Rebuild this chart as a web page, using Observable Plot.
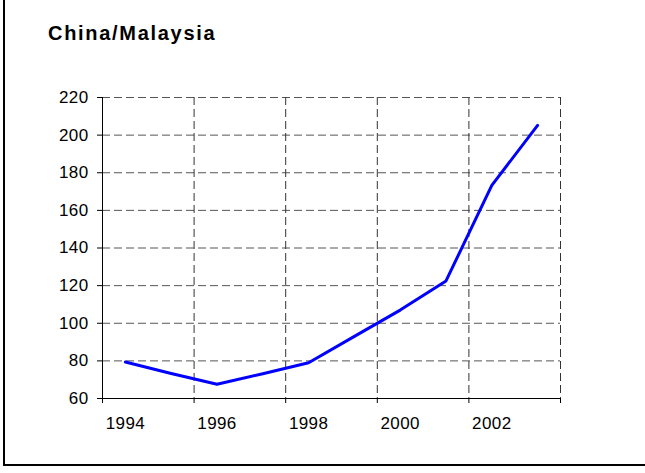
<!DOCTYPE html>
<html>
<head>
<meta charset="utf-8">
<script src="https://cdn.jsdelivr.net/npm/d3@7"></script>
<script src="https://cdn.jsdelivr.net/npm/@observablehq/plot@0.6"></script>
<style>
  html, body { margin: 0; padding: 0; background: #fff; overflow: hidden; }
  #wrap { position: relative; width: 645px; height: 473px; }
  #frame { position: absolute; left: 3px; top: -4px; width: 700px; height: 470px;
           border-left: 2px solid #000; border-bottom: 2px solid #000; box-sizing: border-box; }
  #title { position: absolute; left: 48px; top: 23px; font: bold 20px "Liberation Sans", Arial, sans-serif;
           letter-spacing: 1.7px; line-height: 1; color: #000; }
  #chart { position: absolute; left: 0; top: 0; }
</style>
</head>
<body>
<div id="wrap">
  <div id="chart"></div>
  <div id="frame"></div>
  <div id="title">China/Malaysia</div>
</div>
<script>
const years = [1994, 1995, 1996, 1997, 1998, 1999, 2000, 2001, 2002, 2003];
const values = [79.4, 73.3, 67.6, 73.2, 79.0, 93.0, 107.0, 122.5, 173.3, 205.2];
const yTicks = [60, 80, 100, 120, 140, 160, 180, 200, 220];
const xLabels = [1994, 1996, 1998, 2000, 2002];
const xBoundaries = [1993.5, 1995.5, 1997.5, 1999.5, 2001.5, 2003.5];

const data = years.map((year, i) => ({year, value: values[i]}));

const chart = Plot.plot({
  width: 645,
  height: 473,
  marginLeft: 102,
  marginRight: 85,
  marginTop: 97,
  marginBottom: 75,
  style: {fontFamily: '"Liberation Sans", Arial, sans-serif', fontSize: "17px", color: "#000", background: "transparent", letterSpacing: "0.4px"},
  x: {domain: [1993.5, 2003.5]},
  y: {domain: [60, 220]},
  marks: [
    Plot.gridY(yTicks.filter(d => d > 60), {stroke: "#555", strokeOpacity: 1, strokeDasharray: "8,4", strokeWidth: 1}),
    Plot.gridX(xBoundaries.slice(1), {stroke: "#333", strokeOpacity: 1, strokeDasharray: "8,4", strokeWidth: 1}),
    Plot.ruleX([1993.5], {stroke: "#000", strokeWidth: 1}),
    Plot.ruleY([60], {stroke: "#000", strokeWidth: 1}),
    Plot.axisY(yTicks, {tickSize: 5, tickPadding: 9, label: null, stroke: "#000"}),
    Plot.axisX(xBoundaries, {tickSize: 5, tickFormat: () => "", label: null, stroke: "#000"}),
    Plot.axisX(xLabels, {tickSize: 0, tickPadding: 18, tickFormat: d => String(d), label: null}),
    Plot.line(data, {x: "year", y: "value", stroke: "#0000ff", strokeWidth: 3})
  ]
});
document.getElementById("chart").appendChild(chart);
</script>
</body>
</html>
